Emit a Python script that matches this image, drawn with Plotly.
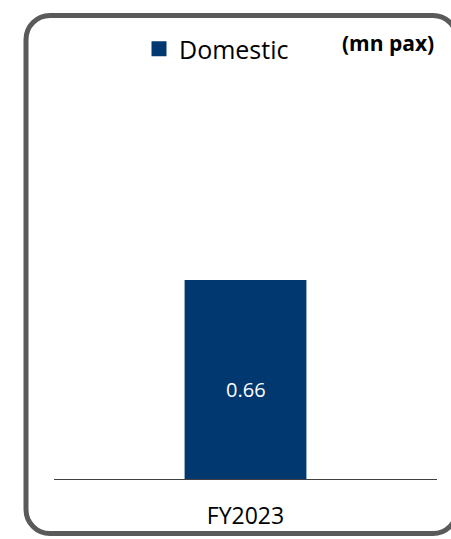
import plotly.graph_objects as go

categories = ["FY2023"]
domestic = [0.66]
series_name = "Domestic"
unit_label = "(mn pax)"

W, H = 451, 539
BAR_COLOR = "#01386F"
BORDER_COLOR = "#5A5A5A"
FONT = "Open Sans"

def px(x):
    return x / W

def py(y):
    return 1 - y / H

fig = go.Figure()
fig.add_trace(go.Bar(
    x=categories, y=domestic, marker=dict(color=BAR_COLOR, line=dict(width=0)),
    showlegend=False, hoverinfo="skip",
))
fig.add_trace(go.Scatter(
    x=[None], y=[None], mode="markers", name=series_name,
    marker=dict(symbol="square", size=15, color=BAR_COLOR),
))

for c, v in zip(categories, domestic):
    fig.add_annotation(x=c, y=v / 2, text=f"{v:.2f}", showarrow=False, yshift=-10,
                       font=dict(family=FONT, size=20, color="white"))

fig.add_annotation(xref="paper", yref="paper", x=px(436), y=py(43), xanchor="right", yanchor="middle",
                   text=f"<b>{unit_label}</b>", showarrow=False,
                   font=dict(family=FONT, size=21, color="black"))

# rounded border
L, T, R, B, r = 26, 15.5, 457, 533.5, 24
k = 0.5523 * r
pts = [
    ("M", [(L, T + r)]),
    ("C", [(L, T + r - k), (L + r - k, T), (L + r, T)]),
    ("L", [(R - r, T)]),
    ("C", [(R - r + k, T), (R, T + r - k), (R, T + r)]),
    ("L", [(R, B - r)]),
    ("C", [(R, B - r + k), (R - r + k, B), (R - r, B)]),
    ("L", [(L + r, B)]),
    ("C", [(L + r - k, B), (L, B - r + k), (L, B - r)]),
]
path = ""
for cmd, ps in pts:
    path += cmd + " ".join(f"{px(a):.5f},{py(b):.5f}" for a, b in ps)
path += "Z"
fig.add_shape(type="path", xref="paper", yref="paper", path=path,
              line=dict(color=BORDER_COLOR, width=5), fillcolor="rgba(0,0,0,0)")

y_bottom, y_top, y_bar_top = 479, 60, 280
fig.update_layout(
    width=W, height=H, margin=dict(l=0, r=0, t=0, b=0),
    paper_bgcolor="white", plot_bgcolor="white",
    bargap=0.682,
    legend=dict(orientation="h", x=px(139), y=py(26), xanchor="left", yanchor="top",
                font=dict(family=FONT, size=25, color="black"), bgcolor="rgba(0,0,0,0)"),
    xaxis=dict(domain=[px(54), px(437)], showline=True, linecolor="#404040", linewidth=1,
               ticks="", ticklabelstandoff=16,
               tickfont=dict(family=FONT, size=23, color="black"), showgrid=False),
    yaxis=dict(domain=[py(y_bottom), py(y_top)],
               range=[0, domestic[0] * (y_bottom - y_top) / (y_bottom - y_bar_top)],
               visible=False, showgrid=False, zeroline=False),
)
fig.write_html("out.html")
